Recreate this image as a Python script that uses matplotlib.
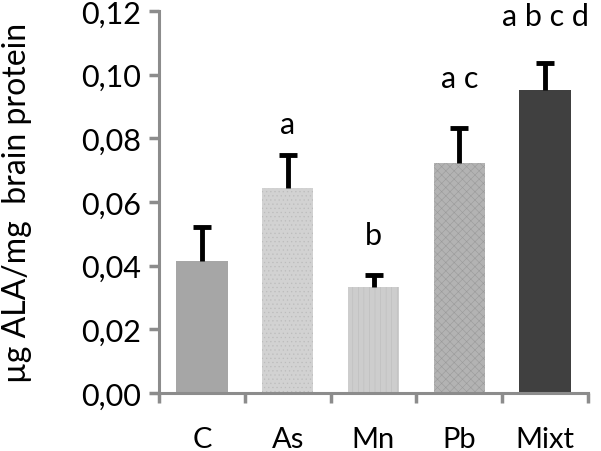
import numpy as np
import matplotlib
matplotlib.use('Agg')
import matplotlib.pyplot as plt
from matplotlib.ticker import FuncFormatter

plt.rcParams['font.family'] = ['Lato', 'DejaVu Sans']

groups = ['C', 'As', 'Mn', 'Pb', 'Mixt']
means = [0.0414, 0.0643, 0.0332, 0.0724, 0.0953]
errs = [0.0108, 0.0105, 0.0040, 0.0108, 0.0083]
letters = ['', 'a', 'b', 'a c', 'a b c d']
letter_y = [0, 0.0800, 0.0451, 0.0944, 0.1140]

colors = ['#a6a6a6', '#d2d2d2', '#cdcdcd', '#b3b3b3', '#404040']
hatches = [None, '....', '|||', 'xxxx', None]

fig = plt.figure(figsize=(6.01, 4.52), dpi=100)
ax = fig.add_axes([159/601, 1-394/452, (588-159)/601, (394-12)/452])

x = np.arange(len(groups))
plt.rcParams['hatch.linewidth'] = 0.4
for i in range(len(groups)):
    b = ax.bar(x[i], means[i], width=0.6, color=colors[i], edgecolor='none', zorder=2)
    if hatches[i]:
        b[0].set_hatch(hatches[i])
        b[0].set_edgecolor('#bcbcbc' if i != 3 else '#9a9a9a')
        b[0].set_linewidth(0)

eb = ax.errorbar(x, means, yerr=[np.zeros(len(errs)), errs], fmt='none', ecolor='black',
                 elinewidth=3.5, capsize=6.5, capthick=3.5, zorder=3)
# only keep the upper cap
eb[1][0].set_visible(False)

for i in range(len(groups)):
    if letters[i]:
        ax.text(x[i], letter_y[i], letters[i], ha='center', va='bottom', fontsize=22,
                clip_on=False)

ax.set_xlim(-0.5, 4.5)
ax.set_ylim(0, 0.12)
ax.set_yticks(np.arange(0, 0.121, 0.02))
ax.yaxis.set_major_formatter(FuncFormatter(lambda v, p: ('%.2f' % v).replace('.', ',')))

ax.set_xticks(np.arange(-0.5, 4.6, 1))
ax.set_xticklabels([])
ax.set_xticks(x, minor=True)
ax.set_xticklabels(groups, minor=True, fontsize=21)
ax.tick_params(axis='x', which='minor', length=0, pad=24)
ax.tick_params(axis='x', which='major', length=7, width=2.5, color='#8c8c8c', direction='out')
ax.tick_params(axis='y', length=7, width=2.5, color='#8c8c8c', direction='out', labelsize=22, pad=6)

for s in ['top', 'right']:
    ax.spines[s].set_visible(False)
for s in ['left', 'bottom']:
    ax.spines[s].set_color('#8c8c8c')
    ax.spines[s].set_linewidth(2.2)

ax.set_ylabel('µg ALA/mg  brain protein', fontsize=23)
ax.yaxis.set_label_coords(-0.295, 0.5)

fig.savefig('out.png', dpi=100)
